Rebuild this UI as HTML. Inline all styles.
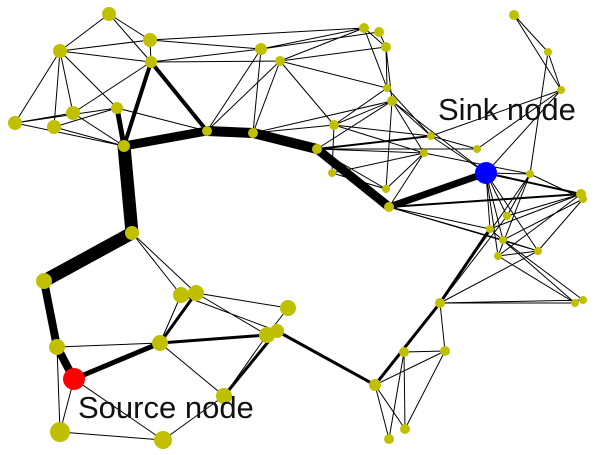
<!DOCTYPE html><html><head><style>body{margin:0;background:#fff}svg{display:block}</style></head><body>
<svg width="600" height="455" xmlns="http://www.w3.org/2000/svg">
<g stroke="#000" stroke-width="1" fill="none">
<path d="M109,14L60,51M109,14L151,62M109,14L150,40M60,51L150,40M60,51L151,62M60,51L15,123M60,51L54,127M60,51L73,113M60,51L117,108M150,40L151,62M150,40L261,49M151,62L261,49M151,62L124,146M151,62L73,113M15,123L117,108M15,123L124,146M15,123L73,113M54,127L117,108M54,127L124,146M73,113L124,146M117,108L207,131M207,131L261,49M207,131L280,61M253,133L261,49M253,133L280,61M261,49L364,28M261,49L379,32M280,61L364,28M280,61L386,47M280,61L387,88M280,61L334,125M151,62L280,61M150,40L364,28"/>
<path d="M364,28L386,47M379,32L386,47M364,28L387,88M386,47L387,88M386,47L392,101M387,88L334,125M392,101L334,125M387,88L431,136M392,101L431,136M392,101L424,153M392,101L486,173M334,125L424,153M334,125L332,173M334,125L431,136M317,149L431,136M317,149L424,153M317,149L477,149M317,149L386,189M392,101L386,189M392,101L317,149M424,153L386,189M424,153L389,207M431,136L486,173M431,136L477,149M253,133L334,125M253,133L392,101M332,173L424,153M332,173L386,189M424,153L530,174M477,149L561,90M486,173L561,90M514,15L548,52M514,15L561,90M548,52L561,90M548,52L530,174M561,90L431,136M486,173L530,174M530,174L583,199M530,174L507,216M530,174L498,256M530,174L440,303M486,173L507,216M486,173L490,229M486,173L503,240M486,173L498,256M486,173L538,251M486,173L581,194M389,207L490,229M389,207L538,251M389,207L503,240M507,216L581,194M490,229L581,194M503,240L583,199M498,256L581,194M538,251L583,199M490,229L575,303M503,240L583,300M498,256L575,303M440,303L538,251M440,303L583,300M440,303L507,216M440,303L575,303M498,256L538,251M503,240L538,251"/>
<path d="M132,233L196,293M132,233L181,295M181,295L160,343M196,293L288,308M196,293L267,335M181,295L277,331M288,308L267,335M57,347L160,343M57,347L60,432M74,379L60,432M74,379L163,440M60,432L163,440M163,440L224,396M160,343L224,396M224,396L277,331M267,335L224,396M375,385L389,439M375,385L405,429M404,352L389,439M404,352L445,351M445,351L405,429M375,385L445,351M404,352L405,429M440,303L445,351"/>
</g>
<g stroke="#000" fill="none" stroke-linecap="round">
<path d="M124,146L151,62L207,131" stroke-width="4"/>
<path d="M117,108L124,146" stroke-width="5"/>
<path d="M74,379L160,343" stroke-width="5"/>
<path d="M160,343L267,335" stroke-width="3"/>
<path d="M196,293L160,343M277,331L224,396" stroke-width="3"/>
<path d="M277,331L375,385" stroke-width="3"/>
<path d="M375,385L440,303L490,229" stroke-width="3"/>
<path d="M317,149L431,136M389,207L581,194M486,173L581,194" stroke-width="2"/>
<path d="M74,379L57,347L44,281" stroke-width="8"/>
<path d="M44,281L132,233" stroke-width="13"/>
<path d="M132,233L124,146" stroke-width="13"/>
<path d="M124,146L207,131" stroke-width="9"/>
<path d="M207,131L253,133L317,149" stroke-width="10"/>
<path d="M317,149L389,207" stroke-width="9"/>
<path d="M389,207L486,173" stroke-width="7"/>
</g>
<g fill="#c0c000">
<circle cx="109" cy="14" r="7"/><circle cx="150" cy="40" r="7"/><circle cx="60" cy="51" r="7"/><circle cx="151" cy="62" r="6"/><circle cx="15" cy="123" r="7"/><circle cx="54" cy="127" r="7"/><circle cx="73" cy="113" r="7"/><circle cx="117" cy="108" r="6"/><circle cx="124" cy="146" r="6"/><circle cx="207" cy="131" r="5"/><circle cx="253" cy="133" r="5"/><circle cx="261" cy="49" r="6"/><circle cx="280" cy="61" r="5"/><circle cx="132" cy="233" r="7"/>
<circle cx="364" cy="28" r="5"/><circle cx="379" cy="32" r="5"/><circle cx="386" cy="47" r="5"/><circle cx="387" cy="88" r="4"/><circle cx="392" cy="101" r="5"/><circle cx="334" cy="125" r="5"/><circle cx="317" cy="149" r="5"/><circle cx="332" cy="173" r="4"/><circle cx="431" cy="136" r="4"/><circle cx="424" cy="153" r="4"/><circle cx="477" cy="149" r="4"/><circle cx="530" cy="174" r="4"/><circle cx="514" cy="15" r="5"/><circle cx="548" cy="52" r="4"/><circle cx="561" cy="90" r="4"/><circle cx="581" cy="194" r="5"/><circle cx="583" cy="199" r="4"/><circle cx="386" cy="189" r="4"/><circle cx="389" cy="207" r="5"/><circle cx="507" cy="216" r="4"/><circle cx="490" cy="229" r="4"/><circle cx="503" cy="240" r="4"/><circle cx="538" cy="251" r="4"/><circle cx="498" cy="256" r="4"/><circle cx="440" cy="303" r="5"/><circle cx="575" cy="303" r="4"/><circle cx="583" cy="300" r="4"/>
<circle cx="44" cy="281" r="8"/><circle cx="57" cy="347" r="8"/><circle cx="181" cy="295" r="8"/><circle cx="196" cy="293" r="8"/><circle cx="288" cy="308" r="8"/><circle cx="160" cy="343" r="8"/><circle cx="267" cy="335" r="8"/><circle cx="277" cy="331" r="7"/><circle cx="224" cy="396" r="8"/><circle cx="375" cy="385" r="6"/><circle cx="404" cy="352" r="5"/><circle cx="445" cy="351" r="5"/><circle cx="60" cy="432" r="10"/><circle cx="163" cy="440" r="9"/><circle cx="405" cy="429" r="5"/><circle cx="389" cy="439" r="5"/>
</g>
<circle cx="74" cy="379" r="11" fill="#f00"/>
<circle cx="486" cy="173" r="11" fill="#00f"/>
<g font-family="Liberation Sans, sans-serif" font-size="31" fill="#111">
<text x="78" y="418">Source node</text>
<text x="438" y="120">Sink node</text>
</g>
</svg>
</body></html>
